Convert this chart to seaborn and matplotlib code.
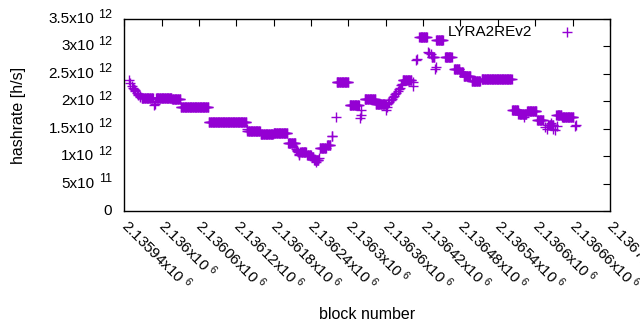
import numpy as np
import pandas as pd
import matplotlib
matplotlib.use("Agg")
import matplotlib.pyplot as plt
import matplotlib.transforms as mtransforms
import seaborn as sns

# flat stretches: first block, last block, hashrate (x10^12 h/s)
run_start = [2135968, 2135991, 2136017, 2136031, 2136076, 2136138, 2136159, 2136180,
             2136203, 2136223, 2136234, 2136241, 2136245, 2136254, 2136266, 2136281,
             2136302, 2136326, 2136344, 2136387, 2136414, 2136434, 2136441, 2136455,
             2136470, 2136479, 2136485, 2136498, 2136514, 2136563, 2136573, 2136587,
             2136603, 2136621, 2136634, 2136643]
run_end = [2135986, 2136016, 2136030, 2136075, 2136136, 2136158, 2136179, 2136202,
           2136215, 2136232, 2136240, 2136244, 2136252, 2136264, 2136271, 2136300,
           2136317, 2136343, 2136360, 2136401, 2136426, 2136438, 2136452, 2136466,
           2136478, 2136484, 2136496, 2136511, 2136562, 2136572, 2136586, 2136602,
           2136613, 2136629, 2136642, 2136661]
run_value = [2.055, 2.055, 2.04, 1.89, 1.63, 1.46, 1.40, 1.415,
             1.24, 1.07, 1.03, 0.98, 0.93, 1.14, 1.20, 2.35,
             1.93, 2.04, 1.945, 2.38, 3.18, 2.81, 3.11, 2.81,
             2.59, 2.54, 2.47, 2.37, 2.41, 1.85, 1.77, 1.82,
             1.65, 1.57, 1.75, 1.71]

# isolated blocks
single_block = [2135948, 2135950, 2135952, 2135954, 2135955, 2135957, 2135958, 2135960,
                2135962, 2135963, 2135965, 2135966, 2135988, 2135990, 2136137, 2136216,
                2136217, 2136218, 2136219, 2136220, 2136221, 2136248, 2136253, 2136273,
                2136274, 2136280, 2136319, 2136320, 2136321, 2136361, 2136362, 2136364,
                2136366, 2136368, 2136370, 2136371, 2136373, 2136375, 2136377, 2136379,
                2136381, 2136383, 2136385, 2136386, 2136403, 2136404, 2136408, 2136410,
                2136428, 2136430, 2136432, 2136439, 2136440, 2136574, 2136582, 2136616,
                2136619, 2136625, 2136629, 2136632, 2136635, 2136664, 2136666]
single_value = [2.38, 2.33, 2.28, 2.25, 2.23, 2.20, 2.18, 2.16,
                2.13, 2.11, 2.09, 2.07, 1.93, 1.95, 1.49, 1.13,
                1.11, 1.09, 1.07, 1.04, 1.02, 0.90, 0.96, 1.36,
                1.37, 1.71, 1.69, 1.75, 1.84, 1.84, 1.90, 1.96,
                1.99, 2.02, 2.05, 2.07, 2.10, 2.13, 2.16, 2.19,
                2.22, 2.25, 2.29, 2.32, 2.28, 2.36, 2.75, 2.78,
                2.90, 2.88, 2.86, 2.58, 2.63, 1.79, 1.72, 1.54,
                1.49, 1.60, 1.49, 1.48, 1.55, 1.555, 1.57]

xtick_values = [2135940, 2136000, 2136060, 2136120, 2136180, 2136240, 2136300,
                2136360, 2136420, 2136480, 2136540, 2136600, 2136660, 2136720]
xtick_labels = ["2.13594", "2.136", "2.13606", "2.13612", "2.13618", "2.13624", "2.1363",
                "2.13636", "2.13642", "2.13648", "2.13654", "2.1366", "2.13666", "2.13672"]
ytick_values = [0, 0.5e12, 1.0e12, 1.5e12, 2.0e12, 2.5e12, 3.0e12, 3.5e12]
ytick_base = ["0", "5x10", "1x10", "1.5x10", "2x10", "2.5x10", "3x10", "3.5x10"]
ytick_exp = ["", "11", "12", "12", "12", "12", "12", "12"]

blocks = []
rates = []
for s, e, v in zip(run_start, run_end, run_value):
    for b in range(s, e + 1):
        blocks.append(b)
        rates.append(v * 1e12)
for b, v in zip(single_block, single_value):
    blocks.append(b)
    rates.append(v * 1e12)
df = pd.DataFrame({"block": blocks, "hashrate": rates})

sns.set_style("white")
plt.rcParams["font.family"] = ["Liberation Sans", "DejaVu Sans"]
plt.rcParams["mathtext.default"] = "regular"
plt.rcParams["text.color"] = "black"
plt.rcParams["axes.labelcolor"] = "black"

fig = plt.figure(figsize=(6.4, 3.3), dpi=100)
ax = fig.add_axes([0.194, 0.3606, 0.759, 0.5818])

sns.scatterplot(data=df, x="block", y="hashrate", marker="+", color="#9400D3",
                s=46, linewidth=1.0, label="LYRA2REv2", ax=ax)

ax.set_xlim(2135940, 2136720)
ax.set_ylim(0, 3.5e12)
ax.set_xticks(xtick_values)
ax.set_xticklabels([l + "x10$^{\\ 6}$" for l in xtick_labels])
ax.set_yticks(ytick_values)
ax.set_yticklabels([])
ax.tick_params(direction="in", top=True, right=True, length=5, width=0.8,
               labelsize=11, colors="black")
ax.tick_params(axis="x", pad=8)
for lab in ax.get_xticklabels():
    lab.set_rotation(-45)
    lab.set_ha("left")
    lab.set_va("center")
    lab.set_rotation_mode("anchor")

# y tick labels in gnuplot style: base + raised exponent
ytrans = ax.get_yaxis_transform()
exp_trans = mtransforms.offset_copy(ytrans, fig=fig, x=0, y=4.5, units="dots")
for v, base, ex in zip(ytick_values, ytick_base, ytick_exp):
    if ex:
        ax.text(-0.0617, v, base, transform=ytrans, ha="right", va="center",
                fontsize=11, color="black")
        ax.text(-0.0247, v, ex, transform=exp_trans, ha="right", va="center",
                fontsize=9, color="black")
    else:
        ax.text(-0.0247, v, base, transform=ytrans, ha="right", va="center",
                fontsize=11, color="black")

for sp in ax.spines.values():
    sp.set_color("black")
    sp.set_linewidth(1)

ax.set_xlabel("block number", fontsize=11.5)
ax.set_ylabel("hashrate [h/s]", fontsize=11.5)
ax.xaxis.set_label_coords(0.5, -0.5)
ax.yaxis.set_label_coords(-0.2016, 0.5)

ax.legend(loc="upper right", bbox_to_anchor=(0.955, 1.0), borderaxespad=0,
          frameon=False, markerfirst=False, fontsize=11, handletextpad=1.25)

fig.savefig("out.png", dpi=100)
